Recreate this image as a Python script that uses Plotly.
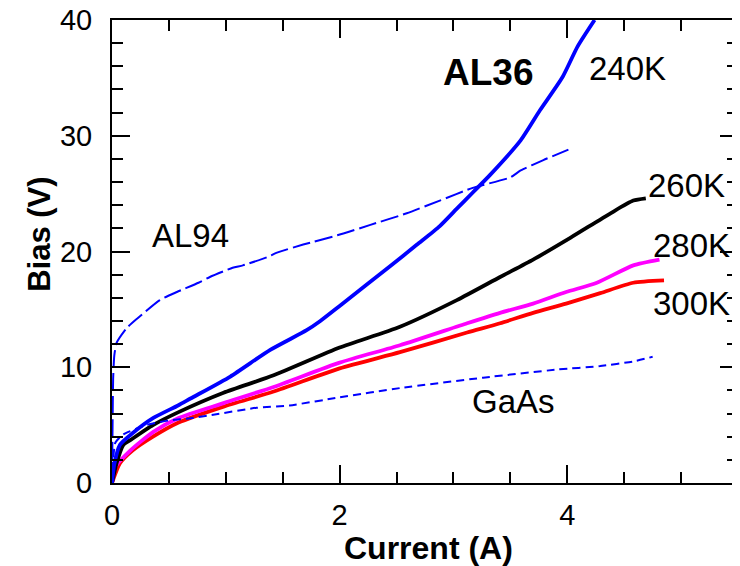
import plotly.graph_objects as go

# 240K (AL36) solid blue
k240_x = [0, 0.02, 0.07, 0.18, 0.36, 0.58, 0.69, 1.04, 1.39, 1.71, 1.83, 2.0, 2.44, 2.68, 2.88, 3.03, 3.17, 3.32, 3.59, 3.76, 3.96, 4.09, 4.24]
k240_y = [0, 1.6, 3.3, 4.3, 5.6, 6.7, 7.3, 9.2, 11.5, 13.2, 14.0, 15.3, 18.7, 20.6, 22.2, 23.7, 25.1, 26.6, 29.6, 32.2, 35.1, 37.7, 40.0]

# 260K solid black
k260_x = [0, 0.04, 0.10, 0.16, 0.36, 0.58, 0.98, 1.42, 2.0, 2.53, 3.03, 3.41, 3.70, 4.03, 4.38, 4.58, 4.69]
k260_y = [0, 1.7, 3.3, 3.7, 5.0, 6.1, 7.8, 9.3, 11.7, 13.5, 15.8, 17.8, 19.3, 21.2, 23.3, 24.4, 24.6]

# 280K solid magenta
k280_x = [0, 0.03, 0.16, 0.36, 0.58, 0.98, 1.42, 2.0, 2.53, 3.12, 3.41, 3.70, 3.99, 4.26, 4.58, 4.81]
k280_y = [0, 1.4, 2.8, 4.4, 5.6, 6.9, 8.3, 10.4, 11.9, 13.8, 14.7, 15.5, 16.5, 17.3, 18.8, 19.3]

# 300K solid red
k300_x = [0, 0.07, 0.18, 0.36, 0.58, 0.98, 1.42, 2.0, 2.53, 3.12, 3.41, 3.70, 3.99, 4.29, 4.58, 4.85]
k300_y = [0, 1.7, 2.8, 4.0, 5.2, 6.6, 7.9, 9.9, 11.3, 13.0, 13.8, 14.7, 15.5, 16.4, 17.3, 17.5]

# AL94 dashed blue
al94_x = [0, 0.005, 0.01, 0.02, 0.04, 0.13, 0.22, 0.42, 0.57, 0.76, 0.86, 1.06, 1.15, 1.36, 1.45, 1.68, 1.98, 2.27, 2.59, 2.88, 3.17, 3.50, 3.59, 3.79, 4.01]
al94_y = [0, 5.0, 9.0, 11.0, 12.1, 13.4, 14.2, 15.8, 16.5, 17.3, 17.8, 18.6, 18.8, 19.5, 19.9, 20.6, 21.4, 22.3, 23.3, 24.4, 25.5, 26.4, 27.0, 27.9, 28.8]

# GaAs dashed blue
gaas_x = [0, 0.01, 0.03, 0.10, 0.30, 0.50, 0.69, 0.89, 1.27, 1.56, 2.0, 2.53, 3.26, 3.91, 4.29, 4.58, 4.75]
gaas_y = [0, 2.0, 3.5, 4.2, 5.0, 5.4, 5.6, 5.9, 6.5, 6.7, 7.4, 8.2, 9.1, 9.8, 10.1, 10.5, 10.9]

x_ticks = [0, 2, 4]
y_ticks = [0, 10, 20, 30, 40]

FONT = "Liberation Sans, Arial, sans-serif"

fig = go.Figure()
solid = dict(width=3.8, shape="spline", smoothing=0.6)
fig.add_trace(go.Scatter(x=k300_x, y=k300_y, mode="lines", line=dict(color="#ff0000", **solid)))
fig.add_trace(go.Scatter(x=k280_x, y=k280_y, mode="lines", line=dict(color="#ff00ff", **solid)))
fig.add_trace(go.Scatter(x=k260_x, y=k260_y, mode="lines", line=dict(color="#000000", **solid)))
fig.add_trace(go.Scatter(x=k240_x, y=k240_y, mode="lines", line=dict(color="#0000ff", **solid)))
fig.add_trace(go.Scatter(x=al94_x, y=al94_y, mode="lines",
                         line=dict(color="#0000ff", width=2, dash="18px,5px", shape="spline", smoothing=0.5)))
fig.add_trace(go.Scatter(x=gaas_x, y=gaas_y, mode="lines",
                         line=dict(color="#0000ff", width=2, dash="8px,5px", shape="spline", smoothing=0.5)))

axis_common = dict(
    showgrid=False, zeroline=False, showline=True, linecolor="black", linewidth=2,
    mirror="ticks", ticks="inside", ticklen=18, tickwidth=2, tickcolor="black",
    tickfont=dict(family=FONT, size=29, color="black"), ticklabeloverflow="allow",
    automargin=False,
)
fig.update_xaxes(range=[0, 5.5], tickvals=x_ticks,
                 minor=dict(dtick=0.5, tick0=0, ticks="inside", ticklen=11, tickwidth=2, tickcolor="black"),
                 ticklabelstandoff=5, **axis_common)
fig.update_yaxes(range=[0, 40], tickvals=y_ticks,
                 minor=dict(dtick=2, tick0=0, ticks="inside", ticklen=11, tickwidth=2, tickcolor="black"),
                 ticklabelstandoff=12, **axis_common)

labels = [
    ("AL36", 3.30, 35.5, 37, True),
    ("240K", 4.53, 35.8, 33, False),
    ("260K", 5.05, 25.7, 33, False),
    ("280K", 5.09, 20.5, 33, False),
    ("300K", 5.09, 15.5, 33, False),
    ("AL94", 0.69, 21.4, 33, False),
    ("GaAs", 3.53, 7.0, 33, False),
]
for text, x, y, size, bold in labels:
    fig.add_annotation(x=x, y=y, xref="x", yref="y", text=f"<b>{text}</b>" if bold else text,
                       showarrow=False, font=dict(family=FONT, size=size, color="black"),
                       xanchor="center", yanchor="middle")

fig.add_annotation(x=0.506, y=-0.140, xref="paper", yref="paper", text="<b>Current (A)</b>",
                   showarrow=False, font=dict(family=FONT, size=32, color="black"),
                   xanchor="center", yanchor="middle")
fig.add_annotation(x=-0.115, y=0.536, xref="paper", yref="paper", text="<b>Bias (V)</b>",
                   showarrow=False, textangle=-90, font=dict(family=FONT, size=31, color="black"),
                   xanchor="center", yanchor="middle")

fig.update_layout(
    width=740, height=566, showlegend=False,
    margin=dict(l=104, r=10, t=12, b=91, autoexpand=False),
    plot_bgcolor="white", paper_bgcolor="white",
)
fig.write_html("out.html")
